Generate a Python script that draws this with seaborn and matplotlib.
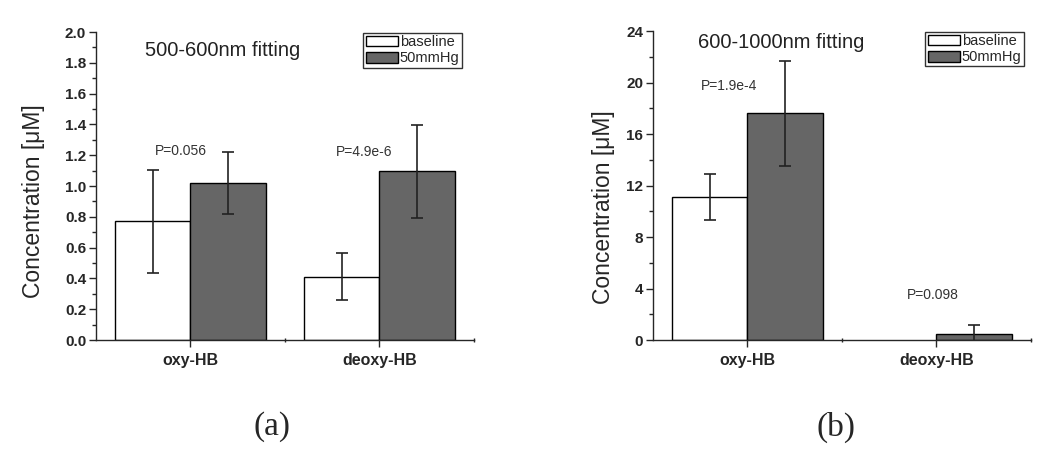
import matplotlib
matplotlib.use("Agg")
from matplotlib import pyplot as plt
from matplotlib.ticker import MultipleLocator, FixedLocator
import numpy as np
import pandas as pd
import seaborn as sns

sns.set_style("ticks")
plt.rcParams['font.family'] = ['Liberation Sans', 'DejaVu Sans']

# data
species = ['oxy-HB', 'deoxy-HB']
conditions = ['baseline', '50mmHg']

# (a) 500-600nm fitting
a_baseline = [0.77, 0.41]
a_baseline_err = [0.335, 0.153]
a_50mmhg = [1.02, 1.095]
a_50mmhg_err = [0.20, 0.30]
a_pvalues = ['P=0.056', 'P=4.9e-6']

# (b) 600-1000nm fitting
b_baseline = [11.1, 0.0]
b_baseline_err = [1.8, 0.0]
b_50mmhg = [17.6, 0.5]
b_50mmhg_err = [4.1, 0.7]
b_pvalues = ['P=1.9e-4', 'P=0.098']

palette = {'baseline': 'white', '50mmHg': '#666666'}


def make_frame(base, base_err, hyper, hyper_err):
    return pd.DataFrame({
        'species': species * 2,
        'condition': ['baseline'] * 2 + ['50mmHg'] * 2,
        'value': base + hyper,
        'err': base_err + hyper_err,
    })


def draw_panel(ax, df, title, title_xy, pvalues, p_xy, ylim, major, minor,
               label_xy, legend_xy):
    sns.barplot(data=df, x='species', y='value', hue='condition',
                hue_order=conditions, order=species, palette=palette,
                errorbar=None, edgecolor='black', linewidth=1.0,
                width=0.8, ax=ax)

    # error bars at the centre of each bar; hide empty bars
    for patch, (_, row) in zip(ax.patches, df.iterrows()):
        if row['value'] == 0:
            patch.set_visible(False)
        if row['err'] <= 0:
            continue
        xc = patch.get_x() + patch.get_width() / 2
        ax.errorbar(xc, row['value'], yerr=row['err'], fmt='none',
                    ecolor='#222222', elinewidth=1.2, capsize=4, capthick=1.2,
                    clip_on=True)

    ax.set_xlim(-0.5, 1.5)
    ax.set_ylim(*ylim)
    ax.yaxis.set_major_locator(MultipleLocator(major))
    ax.yaxis.set_minor_locator(MultipleLocator(minor))
    ax.xaxis.set_minor_locator(FixedLocator([0.5, 1.5]))
    sns.despine(ax=ax)
    ax.spines['left'].set_linewidth(1.0)
    ax.spines['bottom'].set_linewidth(1.0)
    ax.tick_params(axis='y', which='major', length=5, width=1, pad=2, labelsize=11)
    ax.tick_params(axis='y', which='minor', length=3, width=1)
    ax.tick_params(axis='x', which='major', length=5, width=1, pad=4, labelsize=11.5)
    ax.tick_params(axis='x', which='minor', length=3, width=1, direction='inout')
    for lab in ax.get_xticklabels() + ax.get_yticklabels():
        lab.set_fontweight('bold')

    ax.set_xlabel('')
    ax.set_ylabel('Concentration [μM]', fontsize=16.5)
    ax.yaxis.set_label_coords(*label_xy)

    ax.text(title_xy[0], title_xy[1], title, fontsize=14.5, ha='center', va='center',
            color='#222222')
    for (px, py), p in zip(p_xy, pvalues):
        ax.text(px, py, p, fontsize=10, ha='center', va='center', color='#333333')

    leg = ax.legend(loc='upper right', bbox_to_anchor=legend_xy,
                    frameon=True, fancybox=False, edgecolor='black', fontsize=10.5,
                    borderpad=0.15, labelspacing=0.15, handlelength=2.2,
                    handleheight=0.75, handletextpad=0.15, borderaxespad=0)
    leg.get_frame().set_linewidth(1.0)
    for h in leg.legend_handles:
        h.set_edgecolor('black')


fig = plt.figure(figsize=(10.5, 4.5), dpi=100)
ax_a = fig.add_axes([0.0914, 0.2444, 0.36, 0.6844])
ax_b = fig.add_axes([0.6219, 0.2444, 0.36, 0.6867])

df_a = make_frame(a_baseline, a_baseline_err, a_50mmhg, a_50mmhg_err)
df_b = make_frame(b_baseline, b_baseline_err, b_50mmhg, b_50mmhg_err)

draw_panel(ax_a, df_a, '500-600nm fitting', (0.17, 1.877), a_pvalues,
           [(-0.05, 1.23), (0.92, 1.22)], (0, 2.0), 0.2, 0.1,
           (-0.135, 0.45), (0.968, 0.997))
draw_panel(ax_b, df_b, '600-1000nm fitting', (0.18, 23.1), b_pvalues,
           [(-0.1, 19.7), (0.98, 3.5)], (0, 24), 4, 2,
           (-0.10, 0.43), (0.981, 0.997))

fig.text(272 / 1050, 1 - 427 / 450, '(a)', fontsize=24, ha='center', va='center',
         family=['Liberation Serif', 'DejaVu Serif'])
fig.text(836 / 1050, 1 - 427 / 450, '(b)', fontsize=24, ha='center', va='center',
         family=['Liberation Serif', 'DejaVu Serif'])

fig.savefig('out.png', dpi=100, facecolor='white')
